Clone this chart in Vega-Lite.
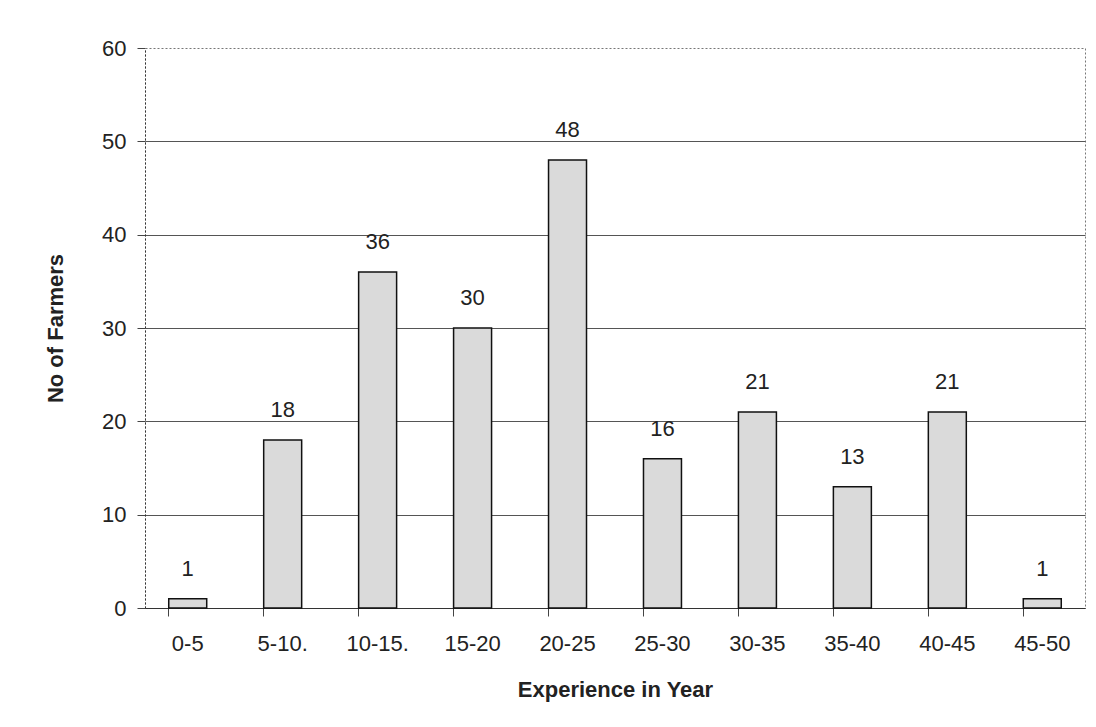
{
  "$schema": "https://vega.github.io/schema/vega-lite/v6.json",
  "width": 940,
  "height": 560,
  "autosize": {"type": "none"},
  "padding": {"left": 145, "top": 48, "right": 11, "bottom": 119},
  "background": "white",
  "config": {
    "font": "Liberation Sans",
    "view": {"stroke": "#777777", "strokeDash": [2, 2], "strokeWidth": 1}
  },
  "data": {
    "values": [
      {"range": "0-5", "farmers": 1},
      {"range": "5-10.", "farmers": 18},
      {"range": "10-15.", "farmers": 36},
      {"range": "15-20", "farmers": 30},
      {"range": "20-25", "farmers": 48},
      {"range": "25-30", "farmers": 16},
      {"range": "30-35", "farmers": 21},
      {"range": "35-40", "farmers": 13},
      {"range": "40-45", "farmers": 21},
      {"range": "45-50", "farmers": 1}
    ]
  },
  "encoding": {
    "x": {
      "field": "range",
      "type": "nominal",
      "sort": null,
      "scale": {"paddingInner": 0.6, "paddingOuter": 0.25},
      "axis": {
        "title": "Experience in Year",
        "titleFontSize": 22,
        "titleFontWeight": "bold",
        "titleColor": "#222222",
        "titlePadding": 25,
        "labelAngle": 0,
        "labelFontSize": 22,
        "labelColor": "#222222",
        "labelPadding": 17,
        "bandPosition": 0,
        "tickSize": 8,
        "tickColor": "#444444",
        "domainColor": "#333333",
        "domainWidth": 1.2
      }
    },
    "y": {
      "field": "farmers",
      "type": "quantitative",
      "scale": {"domain": [0, 60]},
      "axis": {
        "title": "No of Farmers",
        "titleFontSize": 22,
        "titleFontWeight": "bold",
        "titleColor": "#222222",
        "titlePadding": 34,
        "values": [0, 10, 20, 30, 40, 50, 60],
        "labelFontSize": 22,
        "labelColor": "#222222",
        "labelPadding": 11,
        "tickSize": 8,
        "tickColor": "#444444",
        "domainColor": "#333333",
        "domainDash": [2, 2],
        "grid": true,
        "gridColor": "#555555",
        "gridWidth": 1,
        "gridOpacity": {"condition": {"test": "datum.value == 60", "value": 0}, "value": 1}
      }
    }
  },
  "layer": [
    {
      "mark": {"type": "bar", "fill": "#dadada", "stroke": "#111111", "strokeWidth": 1.5}
    },
    {
      "mark": {"type": "text", "dy": -18, "baseline": "bottom", "fontSize": 22, "color": "#222222"},
      "encoding": {"text": {"field": "farmers"}}
    }
  ]
}
